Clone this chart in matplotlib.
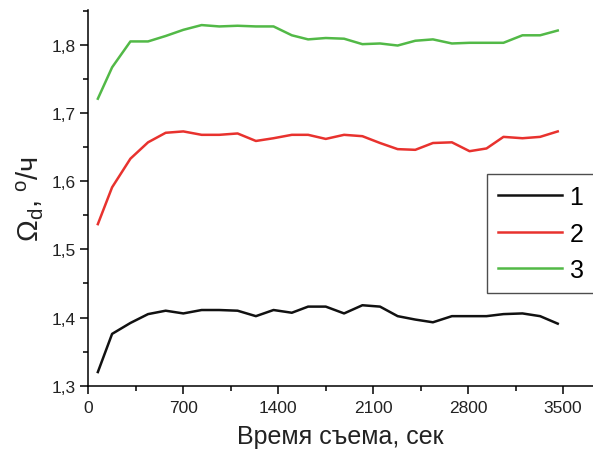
import matplotlib
matplotlib.use("Agg")
import matplotlib.pyplot as plt
from matplotlib.ticker import MultipleLocator, FuncFormatter

plt.rcParams['font.family'] = ['Liberation Sans', 'DejaVu Sans']
plt.rcParams['mathtext.fontset'] = 'custom'
plt.rcParams['mathtext.rm'] = 'Liberation Sans'
plt.rcParams['mathtext.it'] = 'Liberation Sans'

# time of measurement, s
times = [70, 175, 310, 440, 570, 700, 835, 965, 1100, 1235, 1365, 1500, 1620, 1750,
         1885, 2020, 2150, 2280, 2410, 2540, 2680, 2810, 2935, 3060, 3200, 3330, 3460]

curve1 = [1.320, 1.376, 1.392, 1.405, 1.410, 1.406, 1.411, 1.411, 1.410, 1.402, 1.411,
          1.407, 1.416, 1.416, 1.406, 1.418, 1.416, 1.402, 1.397, 1.393, 1.402, 1.402,
          1.402, 1.405, 1.406, 1.402, 1.391]
curve2 = [1.537, 1.591, 1.633, 1.657, 1.671, 1.673, 1.668, 1.668, 1.670, 1.659, 1.663,
          1.668, 1.668, 1.662, 1.668, 1.666, 1.656, 1.647, 1.646, 1.656, 1.657, 1.644,
          1.648, 1.665, 1.663, 1.665, 1.673]
curve3 = [1.721, 1.767, 1.805, 1.805, 1.813, 1.822, 1.829, 1.827, 1.828, 1.827, 1.827,
          1.814, 1.808, 1.810, 1.809, 1.801, 1.802, 1.799, 1.806, 1.808, 1.802, 1.803,
          1.803, 1.803, 1.814, 1.814, 1.821]

labels = ["1", "2", "3"]
colors = ["#111111", "#e8322e", "#52b947"]

fig = plt.figure(figsize=(5.93, 4.52), dpi=100)
ax = fig.add_axes([0.149, 0.1445, 0.851, 0.831])

for ys, lab, c in zip([curve1, curve2, curve3], labels, colors):
    ax.plot(times, ys, color=c, lw=1.8, label=lab)

ax.set_xlim(0, 3720)
ax.set_ylim(1.3, 1.851)
ax.xaxis.set_major_locator(MultipleLocator(700))
ax.xaxis.set_minor_locator(MultipleLocator(350))
ax.yaxis.set_major_locator(MultipleLocator(0.1))
ax.yaxis.set_minor_locator(MultipleLocator(0.05))
ax.yaxis.set_major_formatter(FuncFormatter(lambda v, p: f"{v:.1f}".replace(".", ",")))

for s in ["top", "right"]:
    ax.spines[s].set_visible(False)
for s in ["left", "bottom"]:
    ax.spines[s].set_linewidth(1.1)
ax.tick_params(which='major', direction='out', length=5.5, width=1.1,
               labelsize=12.5, labelcolor='#222222')
ax.tick_params(axis='x', which='major', pad=5)
ax.tick_params(which='minor', direction='out', length=3.5, width=1.1)

ax.set_xlabel("Время съема, сек", fontsize=18, color='#222222', labelpad=6)
ax.set_ylabel(r"$\mathrm{\Omega_d}$, $^{\mathrm{o}}$/ч", fontsize=21, color='#222222', labelpad=4)

leg = ax.legend(loc='upper left', bbox_to_anchor=(0.79, 0.5636), fontsize=18,
                frameon=True, fancybox=False, handlelength=2.55, handletextpad=0.3,
                borderpad=0.45, labelspacing=0.5, borderaxespad=0)
leg.get_frame().set_edgecolor('#222222')
leg.get_frame().set_linewidth(1.0)

fig.savefig("out.png", dpi=100)
